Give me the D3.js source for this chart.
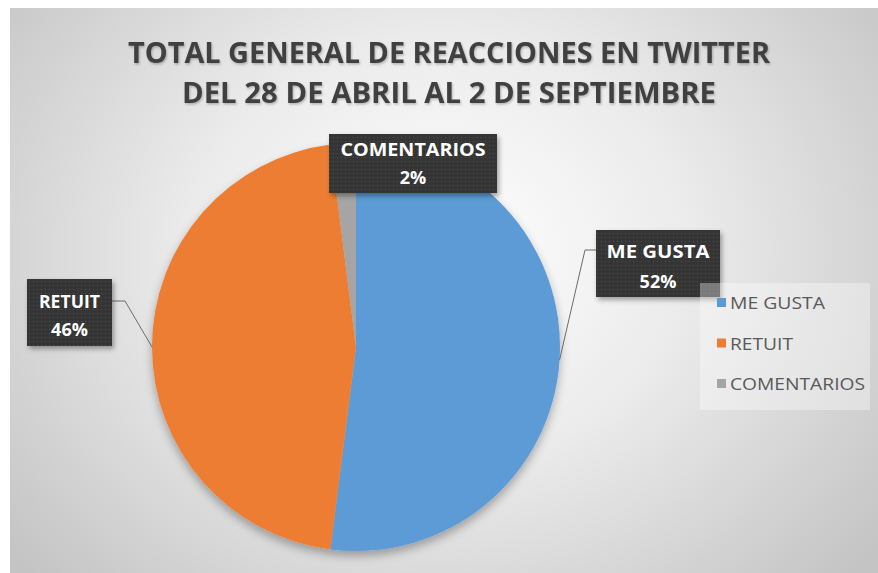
<!DOCTYPE html>
<html><head><meta charset="utf-8">
<script src="https://cdn.jsdelivr.net/npm/d3@7"></script>
<style>html,body{margin:0;padding:0;background:#fff;}svg{display:block;}</style>
</head><body>
<script>
const categories = ["ME GUSTA", "RETUIT", "COMENTARIOS"];
const values = [52, 46, 2];
const pctLabels = ["52%", "46%", "2%"];
const colors = ["#5b9bd5", "#ed7d31", "#a5a5a5"];
const titleLines = ["TOTAL GENERAL DE REACCIONES EN TWITTER", "DEL 28 DE ABRIL AL 2 DE SEPTIEMBRE"];

const W = 878, H = 573;
const svg = d3.select("body").append("svg").attr("width", W).attr("height", H);
const defs = svg.append("defs");

const rg = defs.append("radialGradient").attr("id", "bg")
  .attr("gradientUnits", "userSpaceOnUse")
  .attr("cx", 440).attr("cy", 250).attr("r", 560)
  .attr("gradientTransform", "translate(440,250) scale(1,0.85) translate(-440,-250)");
rg.append("stop").attr("offset", 0).attr("stop-color", "#ffffff");
rg.append("stop").attr("offset", 0.45).attr("stop-color", "#ebebeb");
rg.append("stop").attr("offset", 1).attr("stop-color", "#c4c4c4");

const pat = defs.append("pattern").attr("id", "dots").attr("patternUnits", "userSpaceOnUse")
  .attr("width", 4).attr("height", 4);
pat.append("rect").attr("width", 4).attr("height", 4).attr("fill", "#353535");
pat.append("rect").attr("x", 1).attr("y", 1).attr("width", 1).attr("height", 1).attr("fill", "#4f4f4f");

const sh = defs.append("filter").attr("id", "sh").attr("x", "-20%").attr("y", "-20%").attr("width", "140%").attr("height", "140%");
sh.append("feDropShadow").attr("dx", 2).attr("dy", 3).attr("stdDeviation", 2.5).attr("flood-color", "#000").attr("flood-opacity", 0.35);
const psh = defs.append("filter").attr("id", "psh").attr("x", "-20%").attr("y", "-20%").attr("width", "140%").attr("height", "140%");
psh.append("feDropShadow").attr("dx", 0).attr("dy", 5).attr("stdDeviation", 5).attr("flood-color", "#000").attr("flood-opacity", 0.3);
const tsh = defs.append("filter").attr("id", "tsh");
tsh.append("feDropShadow").attr("dx", 1).attr("dy", 1.5).attr("stdDeviation", 1).attr("flood-color", "#000").attr("flood-opacity", 0.25);

svg.append("rect").attr("x", 10).attr("y", 8).attr("width", W - 10).attr("height", H - 8).attr("fill", "url(#bg)");

// Title
const titleY = [63, 103];
const titleW = [642, 534];
svg.append("g").selectAll("text").data(titleLines).join("text")
  .attr("x", 449).attr("y", (d, i) => titleY[i])
  .attr("text-anchor", "middle")
  .attr("font-family", "'Open Sans', 'Liberation Sans', sans-serif")
  .attr("font-weight", "bold").attr("font-size", 29)
  .attr("fill", "#404040").attr("filter", "url(#tsh)")
  .attr("textLength", (d, i) => titleW[i]).attr("lengthAdjust", "spacingAndGlyphs")
  .text(d => d);

// Pie
const cx = 356, cy = 347, R = 204;
const pie = d3.pie().sort(null).value(d => d)(values);
const arc = d3.arc().innerRadius(0).outerRadius(R);
const g = svg.append("g").attr("transform", `translate(${cx},${cy})`);
g.append("g").attr("filter", "url(#psh)").selectAll("path").data(pie).join("path")
  .attr("d", arc).attr("fill", (d, i) => colors[i]);

// Leader lines
function edge(d) {
  const a = (d.startAngle + d.endAngle) / 2;
  return [cx + R * Math.sin(a), cy - R * Math.cos(a)];
}
const p0 = edge(pie[0]), p1 = edge(pie[1]);
const lines = [
  [[596, 250], [585, 250], p0],
  [[112, 301], [125, 301], p1]
];
svg.append("g").selectAll("path").data(lines).join("path")
  .attr("d", d => d3.line()(d)).attr("fill", "none")
  .attr("stroke", "#6b6b6b").attr("stroke-width", 1);

// Label boxes
const boxes = [
  {x: 596, y: 230, w: 124, h: 67, y1: 258, y2: 288, tw: 103},
  {x: 27, y: 279, w: 85, h: 67, y1: 308, y2: 336, tw: 61},
  {x: 329, y: 134, w: 168, h: 59, y1: 156, y2: 184, tw: 145}
];
const lb = svg.append("g").selectAll("g").data(boxes).join("g");
lb.append("rect").attr("x", d => d.x).attr("y", d => d.y).attr("width", d => d.w).attr("height", d => d.h)
  .attr("fill", "url(#dots)").attr("filter", "url(#sh)");
lb.append("text").attr("x", d => d.x + d.w / 2).attr("y", d => d.y1)
  .attr("text-anchor", "middle").attr("font-family", "'Open Sans', 'Liberation Sans', sans-serif")
  .attr("font-weight", "bold").attr("font-size", 18).attr("fill", "#ffffff")
  .attr("textLength", d => d.tw).attr("lengthAdjust", "spacingAndGlyphs")
  .text((d, i) => categories[i]);
lb.append("text").attr("x", d => d.x + d.w / 2).attr("y", d => d.y2)
  .attr("text-anchor", "middle").attr("font-family", "'Open Sans', 'Liberation Sans', sans-serif")
  .attr("font-weight", "bold").attr("font-size", 18).attr("fill", "#ffffff")
  .text((d, i) => pctLabels[i]);

// Legend
const leg = svg.append("g");
leg.append("rect").attr("x", 700).attr("y", 283).attr("width", 170).attr("height", 127)
  .attr("fill", "#ffffff").attr("opacity", 0.35);
const legW = [95, 63, 135];
const li = leg.selectAll("g").data(categories).join("g")
  .attr("transform", (d, i) => `translate(0,${303 + i * 40.5})`);
li.append("rect").attr("x", 717).attr("y", -5).attr("width", 9).attr("height", 9)
  .attr("fill", (d, i) => colors[i]);
li.append("text").attr("x", 730).attr("y", 6)
  .attr("font-family", "'Open Sans', 'Liberation Sans', sans-serif")
  .attr("font-size", 16).attr("fill", "#595959")
  .attr("textLength", (d, i) => legW[i]).attr("lengthAdjust", "spacingAndGlyphs")
  .text(d => d);
</script>
</body></html>
